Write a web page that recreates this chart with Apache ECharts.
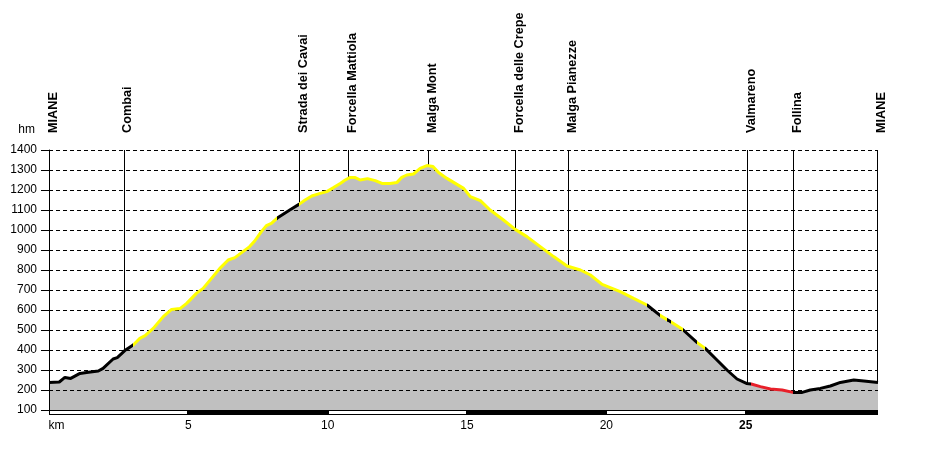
<!DOCTYPE html>
<html><head><meta charset="utf-8">
<script src="https://cdn.jsdelivr.net/npm/echarts@6/dist/echarts.min.js"></script>
<style>html,body{margin:0;padding:0;background:#fff}#c{width:927px;height:450px}</style>
</head><body><div id="c"></div>
<script>
// ---- data ----
const distanceKm = [0,0.37,0.57,0.78,1.11,1.35,1.77,1.94,2.3,2.45,2.72,3.02,3.26,3.45,3.74,4.1,4.4,4.7,4.94,5.29,5.53,5.83,6.13,6.43,6.67,6.96,7.2,7.38,7.62,7.8,7.98,8.22,8.64,8.97,9.19,9.43,9.73,9.97,10.21,10.45,10.63,10.81,10.99,11.17,11.43,11.71,11.95,12.24,12.48,12.66,12.84,13.08,13.32,13.56,13.78,13.98,14.28,14.52,14.88,15.12,15.48,15.83,16.31,16.73,17.15,17.63,18.11,18.59,19.07,19.43,19.85,20.5,20.98,21.46,21.94,22.24,22.72,23.26,23.55,23.97,24.33,24.69,25.03,25.2,25.53,25.89,26.31,26.7,27.03,27.32,27.68,28.04,28.4,28.88,29.24,29.75];
const altitudeM = [238,240,263,258,283,288,295,308,355,362,397,425,458,472,508,567,603,607,633,683,708,758,808,850,862,892,917,945,992,1022,1033,1063,1100,1128,1150,1170,1183,1192,1212,1233,1250,1263,1262,1250,1257,1247,1233,1233,1237,1263,1275,1280,1308,1322,1317,1287,1258,1238,1208,1167,1147,1100,1050,1003,967,917,867,820,800,775,728,692,658,625,572,547,505,437,408,350,300,255,233,230,217,205,200,188,188,200,208,220,238,250,245,238];
const surfaceBreaksKm = [0,3.02,8.2,8.97,21.46,21.91,22.17,22.32,22.75,23.26,23.55,25.2,26.7];
const surfaceTypes = ['paved','gravel','paved','gravel','paved','gravel','paved','gravel','paved','gravel','paved','path','paved'];
const landmarkNames = ['MIANE','Combai','Strada dei Cavai','Forcella Mattiola','Malga Mont','Forcella delle Crepe','Malga Pianezze','Valmareno','Follina','MIANE'];
const landmarkKm = [0,2.69,8.98,10.74,13.61,16.73,18.64,25.06,26.71,29.73];
const scaleBarKm = [0,5,10,15,20,25,29.75];
const yMin = 100, yMax = 1400, yStep = 100;
const xMin = 0, xMax = 29.75, xStep = 5;

// ---- helpers ----
const FONT = '"Liberation Sans", Arial, sans-serif';
const surfaceColor = {paved:'#000000', gravel:'#ffff00', path:'#e8202a'};
function altAt(km){
  for (let i=0;i<distanceKm.length-1;i++){
    if (km>=distanceKm[i] && km<=distanceKm[i+1]){
      const t=(km-distanceKm[i])/(distanceKm[i+1]-distanceKm[i]);
      return altitudeM[i]+t*(altitudeM[i+1]-altitudeM[i]);
    }
  }
  return altitudeM[altitudeM.length-1];
}
const profile = distanceKm.map((d,i)=>[d, altitudeM[i]]);
const pieces = surfaceBreaksKm.map((s,i)=>({
  gte: s, lt: i+1<surfaceBreaksKm.length ? surfaceBreaksKm[i+1] : 1000,
  color: surfaceColor[surfaceTypes[i]]
}));
const crisp = v => Math.round(v)+0.5;

const chart = echarts.init(document.getElementById('c'), null, {renderer:'canvas'});
chart.setOption({
  animation:false,
  backgroundColor:'#ffffff',
  grid:{left:49, right:49, top:150, bottom:40, containLabel:false},
  xAxis:{
    type:'value', min:xMin, max:xMax, interval:xStep,
    axisLine:{show:false}, axisTick:{show:false}, splitLine:{show:false},
    axisLabel:{
      margin:10, color:'#000', fontSize:12, fontFamily:FONT, showMaxLabel:false,
      formatter: v => v===0 ? '{km|km}' : (v===25 ? '{b|25}' : String(v)),
      rich:{
        km:{padding:[0,0,0,15], fontSize:12, fontFamily:FONT, color:'#000'},
        b:{fontWeight:'bold', fontSize:12, fontFamily:FONT, color:'#000'}
      }
    }
  },
  yAxis:{
    type:'value', min:yMin, max:yMax, interval:yStep, z:3,
    name:'hm', nameLocation:'end', nameGap:20,
    nameTextStyle:{color:'#000', fontSize:12, fontFamily:FONT, align:'right', verticalAlign:'middle', padding:[0,14,0,0]},
    axisLine:{show:true, lineStyle:{color:'#000', width:1}},
    axisTick:{show:true, length:8, lineStyle:{color:'#000'}},
    axisLabel:{margin:12, color:'#000', fontSize:12, fontFamily:FONT, formatter: v => String(v)},
    splitLine:{show:true, lineStyle:{color:'#000', width:1, type:[4,3]}}
  },
  visualMap:{show:false, type:'piecewise', dimension:0, seriesIndex:1, pieces:pieces},
  series:[
    {
      type:'line', data:profile, showSymbol:false, silent:true, z:2,
      lineStyle:{width:0, opacity:0},
      areaStyle:{color:'#c0c0c0', opacity:1, origin:'start'}
    },
    {
      type:'line', data:profile, showSymbol:false, silent:true, z:4,
      lineStyle:{width:3}
    },
    {
      type:'custom', z:1, clip:false, silent:true,
      data: landmarkKm.map((k,i)=>[k,i]),
      encode:{x:0, y:-1},
      renderItem:(params, api)=>{
        const km = api.value(0), idx = api.value(1);
        const top = api.coord([km, yMax]);
        const foot = api.coord([km, altAt(km)]);
        const x = crisp(top[0]);
        return {type:'group', children:[
          {type:'line', shape:{x1:x, y1:top[1], x2:x, y2:foot[1]}, style:{stroke:'#000', lineWidth:1}},
          {type:'text', x: top[0]+4, y: top[1]-17, rotation: Math.PI/2,
           style:{text: landmarkNames[idx], font:'bold 12.7px '+FONT, fill:'#000', align:'left', verticalAlign:'middle'}}
        ]};
      }
    },
    {
      type:'custom', z:5, clip:false, silent:true,
      data: scaleBarKm.slice(0,-1).map((s,i)=>[s, scaleBarKm[i+1], i]),
      encode:{x:[0,1], y:-1},
      renderItem:(params, api)=>{
        const p0 = api.coord([api.value(0), yMin]);
        const p1 = api.coord([api.value(1), yMin]);
        const x0 = Math.round(p0[0]), x1 = Math.round(p1[0]), y0 = Math.round(p0[1]);
        const kids = [{type:'rect', shape:{x:x0, y:y0, width:x1-x0, height:5}, style:{fill:'#000'}}];
        if (api.value(2)%2===0){
          kids.push({type:'rect', shape:{x:x0+1, y:y0+1, width:x1-x0-2, height:3}, style:{fill:'#fff'}});
        }
        return {type:'group', children:kids};
      }
    }
  ]
});
</script>
</body></html>
